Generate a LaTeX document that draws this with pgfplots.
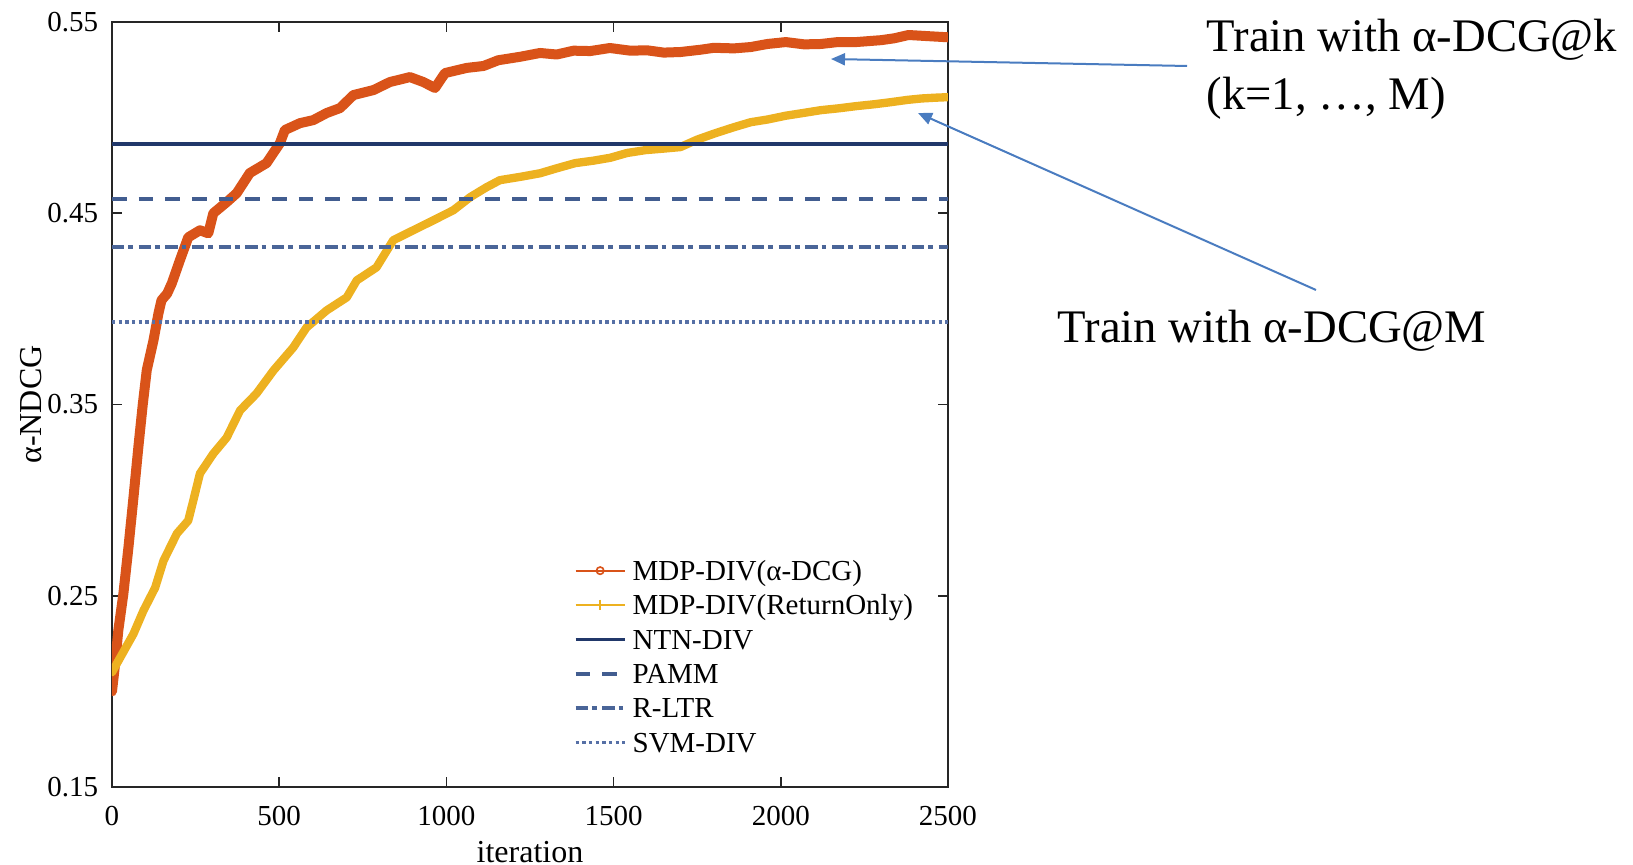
\documentclass[border=0pt]{standalone}
\usepackage{fontspec}
\setmainfont{Liberation Serif}
\usepackage{pgfplots}
\pgfplotsset{compat=1.18}
\usetikzlibrary{arrows.meta}
\definecolor{cOrange}{HTML}{D95319}
\definecolor{cYellow}{HTML}{EDB120}
\definecolor{cNTN}{HTML}{21386A}
\definecolor{cPAMM}{HTML}{425D90}
\definecolor{cRLTR}{HTML}{4A6598}
\definecolor{cSVM}{HTML}{5670A6}
\definecolor{cArrow}{HTML}{4A7CC0}
\begin{document}
\begin{tikzpicture}
\path[use as bounding box] (-33.6pt,-23.4pt) rectangle (456.3pt,236.1pt);
\begin{axis}[
  at={(0pt,0pt)}, anchor=south west,
  scale only axis, width=250.8pt, height=229.5pt,
  xmin=0, xmax=2500, ymin=0.15, ymax=0.55,
  xtick={0,500,1000,1500,2000,2500},
  ytick={0.15,0.25,0.35,0.45,0.55},
  /pgf/number format/1000 sep={},
  /pgf/number format/assume math mode=true,
  yticklabel style={xshift=-0.6pt, /pgf/number format/.cd, fixed, fixed zerofill, precision=2},
  scaled y ticks=false,
  tick label style={font=\fontsize{8.7}{10}\selectfont, text=black},
  xticklabel style={yshift=-2.2pt},
  tick align=inside, major tick length=3pt,
  axis line style={draw=black!85, line width=0.5pt},
  every tick/.style={black!85, line width=0.5pt},
  xlabel={iteration}, ylabel={α-NDCG},
  xlabel style={font=\fontsize{9.6}{11}\selectfont, at={(axis description cs:0.5,-0.085)}, anchor=center},
  ylabel style={font=\fontsize{9.6}{11}\selectfont, at={(axis description cs:-0.097,0.5)}, anchor=center, rotate=0},
  legend cell align=left,
  legend style={draw=none, fill=none, inner sep=0pt, row sep=1.72pt,
    at={(axis description cs:0.5514,0.3024)}, anchor=north west,
    font=\fontsize{8.7}{10}\selectfont,
    nodes={inner sep=0pt, text height=7.2pt, text depth=1.4pt}},
  legend image code/.code={%
    \draw[mark repeat=2,mark phase=2,#1] plot coordinates {(0pt,0pt) (7.35pt,0pt) (14.7pt,0pt)};
    \path (16.5pt,0pt);},
]
% MDP-DIV(alpha-DCG)
\addplot[forget plot, cOrange, line width=3pt, line join=round, line cap=round] coordinates {
(0,0.200) (9,0.214) (19,0.232) (34,0.251) (49,0.275) (64,0.301) (79,0.328) (92,0.350)
(104,0.368) (124,0.3835) (139,0.3977) (148,0.4045) (165,0.408) (179,0.4134) (203,0.4254)
(228,0.4374) (263,0.4411) (288,0.4395) (303,0.450) (343,0.4558) (373,0.4605) (412,0.471)
(462,0.4762) (502,0.4866) (517,0.4935) (562,0.4971) (602,0.4987) (642,0.5024) (682,0.505)
(722,0.5118) (782,0.5144) (831,0.5186) (891,0.5212) (931,0.5186) (966,0.5155) (996,0.5233)
(1061,0.526) (1111,0.527) (1155,0.530) (1220,0.5318) (1280,0.5338) (1330,0.5330) (1380,0.535)
(1430,0.5348) (1489,0.5364) (1550,0.5350) (1600,0.5352) (1650,0.5340) (1700,0.5343)
(1760,0.5355) (1800,0.5365) (1860,0.5362) (1910,0.5369) (1960,0.5385) (2015,0.5395)
(2070,0.5383) (2120,0.5385) (2170,0.5395) (2225,0.5395) (2300,0.5405) (2340,0.5415)
(2382,0.5432) (2450,0.5425) (2500,0.542)};
% MDP-DIV(ReturnOnly)
\addplot[forget plot, cYellow, line width=2.5pt, line join=round, line cap=round] coordinates {
(0,0.210) (24,0.2175) (64,0.230) (94,0.2422) (129,0.2542) (154,0.2683) (194,0.2825)
(228,0.2893) (243,0.2997) (263,0.3139) (303,0.3243) (343,0.3327) (383,0.3469) (432,0.3557)
(483,0.3678) (542,0.3798) (582,0.3903) (642,0.3992) (702,0.406) (732,0.4149) (791,0.4217)
(841,0.4359) (901,0.4411) (961,0.4463) (1021,0.4516) (1071,0.4584) (1120,0.4636)
(1160,0.4673) (1220,0.4690) (1280,0.4709) (1330,0.4735) (1385,0.4762) (1440,0.4775)
(1490,0.479) (1540,0.4815) (1595,0.483) (1650,0.4838) (1700,0.4846) (1750,0.4885)
(1805,0.4919) (1860,0.4950) (1910,0.4976) (1960,0.4990) (2015,0.5010) (2070,0.5025)
(2120,0.5039) (2170,0.5048) (2225,0.5060) (2280,0.5070) (2330,0.5081) (2380,0.5093)
(2420,0.5100) (2460,0.5104) (2500,0.5107)};
% baselines
\addplot[forget plot, cNTN, line width=1.1pt] coordinates {(0,0.4862) (2500,0.4862)};
\addplot[forget plot, cPAMM, line width=1.2pt, dash pattern=on 4.4pt off 3.6pt] coordinates {(0,0.4577) (2500,0.4577)};
\addplot[forget plot, cRLTR, line width=1.2pt, dash pattern=on 3.7pt off 1.2pt on 1.4pt off 1.7pt] coordinates {(0,0.4324) (2500,0.4324)};
\addplot[forget plot, cSVM, line width=1.1pt, dash pattern=on 1pt off 1pt] coordinates {(0,0.3931) (2500,0.3931)};
% legend
\addlegendimage{cOrange, line width=0.6pt, mark=o, mark size=1.1pt, mark options={solid, line width=0.5pt}}
\addlegendentry{MDP-DIV(α-DCG)}
\addlegendimage{cYellow, line width=0.6pt, mark=+, mark size=1.6pt, mark options={solid, line width=0.5pt}}
\addlegendentry{MDP-DIV(ReturnOnly)}
\addlegendimage{cNTN, line width=1.1pt}
\addlegendentry{NTN-DIV}
\addlegendimage{cPAMM, line width=1.2pt, dash pattern=on 4.4pt off 3.6pt}
\addlegendentry{PAMM}
\addlegendimage{cRLTR, line width=1.2pt, dash pattern=on 3.7pt off 1.2pt on 1.4pt off 1.7pt}
\addlegendentry{R-LTR}
\addlegendimage{cSVM, line width=1.1pt, dash pattern=on 1pt off 1pt}
\addlegendentry{SVM-DIV}
\end{axis}
% annotations
\draw[cArrow, line width=0.6pt, -{Triangle[length=4.2pt, width=3.6pt]}] (322.5pt,216.3pt) -- (215.7pt,218.4pt);
\draw[cArrow, line width=0.6pt, -{Triangle[length=4.2pt, width=3.6pt]}] (361.2pt,149.1pt) -- (241.8pt,202.2pt);
\node[anchor=base west, inner sep=0pt, font=\fontsize{14}{17}\selectfont] at (328.2pt,220.5pt) {Train with α-DCG@k};
\node[anchor=base west, inner sep=0pt, font=\fontsize{14}{17}\selectfont] at (328.2pt,203.1pt) {(k=1, …, M)};
\node[anchor=base west, inner sep=0pt, font=\fontsize{14}{17}\selectfont] at (283.5pt,133.2pt) {Train with α-DCG@M};
\end{tikzpicture}
\end{document}
